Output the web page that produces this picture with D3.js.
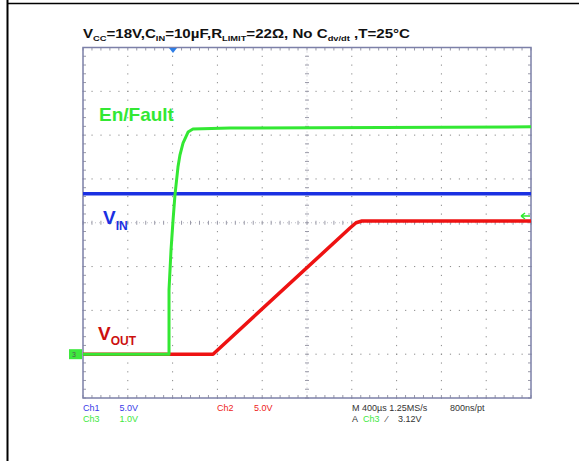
<!DOCTYPE html>
<html>
<head>
<meta charset="utf-8">
<script src="https://cdn.jsdelivr.net/npm/d3@7"></script>
<style>
  body { margin: 0; background: #fff; }
  svg { display: block; font-family: "Liberation Sans", Arial, sans-serif; }
</style>
</head>
<body>
<svg id="scope" width="579" height="461"></svg>
<script>
// time in µs (400µs/div, trigger at 0), levels in divisions from the bottom
var enFaultT = [-800, -32, -32, -14, 4, 21, 48, 66, 93, 138, 182, 513, 3200];
var enFaultV = [1.0, 1.0, 2.47, 3.38, 4.06, 4.63, 5.27, 5.55, 5.82, 6.07, 6.14, 6.16, 6.19];
var vinT = [-800, 3200];
var vinV = [4.66, 4.66];
var voutT = [-800, 361, 1584, 1638, 1691, 3200];
var voutV = [1.0, 1.0, 3.88, 4.0, 4.04, 4.04];

var statusLeft = [
  {label: "Ch1", value: "5.0V", color: "#3a3ae8", row: 0},
  {label: "Ch3", value: "1.0V", color: "#3ee83e", row: 1}
];

var svg = d3.select('#scope');

// page border
svg.append('line').attr('x1', 7.5).attr('y1', 0).attr('x2', 7.5).attr('y2', 461)
  .attr('stroke', '#000').attr('stroke-width', 2);
svg.append('line').attr('x1', 7).attr('y1', 3.5).attr('x2', 579).attr('y2', 3.5)
  .attr('stroke', '#000').attr('stroke-width', 1.6);

var plotLeft = 83, plotTop = 47.5, plotW = 448, plotH = 350.5;

var x = d3.scaleLinear().domain([-800, 3200]).range([plotLeft, plotLeft + plotW]);
var y = d3.scaleLinear().domain([0, 8]).range([plotTop + plotH, plotTop]);

var grid = svg.append('g');

// dotted graticule
d3.range(1, 10).forEach(function(k) {
  var gx = plotLeft + k * plotW / 10;
  if (k === 5) return;
  d3.range(0, 41).forEach(function(j) {
    grid.append('rect').attr('x', gx - 0.5).attr('y', plotTop + j * plotH / 40 - 0.5)
      .attr('width', 1).attr('height', 1.2).attr('fill', '#8a8a8a');
  });
});
d3.range(1, 8).forEach(function(k) {
  var gy = plotTop + k * plotH / 8;
  if (k === 4) return;
  d3.range(0, 51).forEach(function(j) {
    grid.append('rect').attr('x', plotLeft + j * plotW / 50 - 0.5).attr('y', gy - 0.5)
      .attr('width', 1.2).attr('height', 1).attr('fill', '#8a8a8a');
  });
});

// center axes with minor ticks
var cx = plotLeft + plotW / 2, cy = plotTop + plotH / 2;
grid.append('line').attr('x1', cx).attr('y1', plotTop).attr('x2', cx).attr('y2', plotTop + plotH)
  .attr('stroke', '#c0c0c8').attr('stroke-width', 1).attr('stroke-dasharray', '1,3');
grid.append('line').attr('x1', plotLeft).attr('y1', cy).attr('x2', plotLeft + plotW).attr('y2', cy)
  .attr('stroke', '#c0c0c8').attr('stroke-width', 1).attr('stroke-dasharray', '1,3');
d3.range(0, 41).forEach(function(j) {
  var ty = plotTop + j * plotH / 40;
  grid.append('line').attr('x1', cx - 2).attr('x2', cx + 2).attr('y1', ty).attr('y2', ty)
    .attr('stroke', '#9a9aa8');
  grid.append('line').attr('x1', plotLeft).attr('x2', plotLeft + 3).attr('y1', ty).attr('y2', ty)
    .attr('stroke', '#9a9aa8');
  grid.append('line').attr('x1', plotLeft + plotW - 3).attr('x2', plotLeft + plotW).attr('y1', ty).attr('y2', ty)
    .attr('stroke', '#9a9aa8');
});
d3.range(0, 51).forEach(function(j) {
  var tx = plotLeft + j * plotW / 50;
  grid.append('line').attr('x1', tx).attr('x2', tx).attr('y1', cy - 2).attr('y2', cy + 2)
    .attr('stroke', '#9a9aa8');
  grid.append('line').attr('x1', tx).attr('x2', tx).attr('y1', plotTop).attr('y2', plotTop + 3)
    .attr('stroke', '#9a9aa8');
  grid.append('line').attr('x1', tx).attr('x2', tx).attr('y1', plotTop + plotH - 3).attr('y2', plotTop + plotH)
    .attr('stroke', '#9a9aa8');
});

svg.append('rect').attr('x', plotLeft).attr('y', plotTop).attr('width', plotW).attr('height', plotH)
  .attr('fill', 'none').attr('stroke', '#7c80a8').attr('stroke-width', 1.5);

// traces
var line = d3.line().x(function(d) { return x(d[0]); }).y(function(d) { return y(d[1]); });
function trace(ts, vs, color, w) {
  svg.append('path').datum(d3.zip(ts, vs)).attr('d', line)
    .attr('fill', 'none').attr('stroke', color).attr('stroke-width', w)
    .attr('stroke-linejoin', 'round');
}
trace(vinT, vinV, '#1a30e2', 3.5);
trace(voutT, voutV, '#ee1212', 3.5);
trace(enFaultT, enFaultV, '#33e833', 3);

// markers
svg.append('path').attr('d', 'M169,48 L177,48 L173,53 Z').attr('fill', '#2e7ee6');
svg.append('rect').attr('x', 69).attr('y', y(1) - 5).attr('width', 13).attr('height', 10).attr('fill', '#3ee83e');
svg.append('text').attr('x', 72).attr('y', y(1) + 3).attr('font-size', 7).attr('fill', '#555').text('3');
svg.append('path').attr('d', 'M521,216 L530,216 M521,216 L525,213 M521,216 L525,219')
  .attr('stroke', '#2ee82e').attr('stroke-width', 1.5).attr('fill', 'none');

// trace labels
svg.append('text').attr('x', 99).attr('y', 121).attr('font-size', 19).attr('font-weight', 'bold')
  .attr('fill', '#33e833').text('En/Fault');
var vin = svg.append('text').attr('x', 103).attr('y', 224).attr('font-size', 19).attr('font-weight', 'bold')
  .attr('fill', '#1a30e2');
vin.append('tspan').text('V');
vin.append('tspan').attr('font-size', 12).attr('dy', 6).text('IN');
var vout = svg.append('text').attr('x', 98).attr('y', 340).attr('font-size', 19).attr('font-weight', 'bold')
  .attr('fill', '#cc1010');
vout.append('tspan').text('V');
vout.append('tspan').attr('font-size', 12).attr('dy', 5).text('OUT');

// title
var title = svg.append('text').attr('x', 83).attr('y', 38).attr('font-size', 13)
  .attr('font-weight', 'bold').attr('fill', '#111')
  .attr('textLength', 327).attr('lengthAdjust', 'spacingAndGlyphs');
[['V', ''], ['CC', 'sub'], ['=18V,C', ''], ['IN', 'sub'], ['=10µF,R', ''], ['LIMIT', 'sub'],
 ['=22Ω, No C', ''], ['dv/dt', 'sub'], [' ,T=25°C', '']].forEach(function(p, i, arr) {
  var t = title.append('tspan').text(p[0]);
  if (p[1] === 'sub') t.attr('font-size', 8).attr('dy', 3);
  else if (i > 0 && arr[i - 1][1] === 'sub') t.attr('dy', -3);
});

// status bar
var statusG = svg.append('g').attr('font-size', 9).attr('font-family', '"Liberation Sans Narrow", "Liberation Sans", sans-serif');
statusLeft.forEach(function(s) {
  statusG.append('text').attr('x', 83).attr('y', 411 + s.row * 11).attr('fill', s.color).text(s.label);
  statusG.append('text').attr('x', 138).attr('y', 411 + s.row * 11).attr('fill', s.color)
    .attr('text-anchor', 'end').text(s.value);
});
statusG.append('text').attr('x', 217).attr('y', 411).attr('fill', '#ee2222').text('Ch2');
statusG.append('text').attr('x', 254).attr('y', 411).attr('fill', '#ee2222').text('5.0V');
statusG.append('text').attr('x', 352).attr('y', 411).attr('fill', '#333').text('M 400µs 1.25MS/s');
statusG.append('text').attr('x', 450).attr('y', 411).attr('fill', '#333').text('800ns/pt');
statusG.append('text').attr('x', 352).attr('y', 422).attr('fill', '#333').text('A');
statusG.append('text').attr('x', 363).attr('y', 422).attr('fill', '#3ee83e').text('Ch3');
statusG.append('text').attr('x', 386).attr('y', 422).attr('fill', '#333').text('⁄');
statusG.append('text').attr('x', 398).attr('y', 422).attr('fill', '#333').text('3.12V');
</script>
</body>
</html>
